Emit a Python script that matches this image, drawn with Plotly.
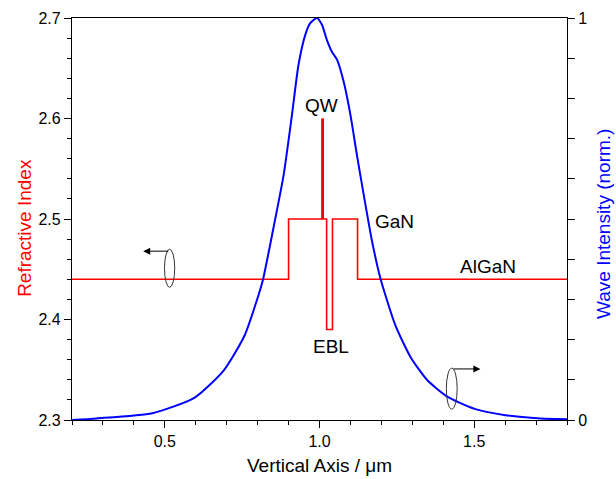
import plotly.graph_objects as go

# Refractive index profile (step profile)
ri_x = [0.2, 0.9, 0.9, 1.01, 1.01, 1.01, 1.023, 1.023, 1.042, 1.042, 1.123, 1.123, 1.8]
ri_y = [2.44, 2.44, 2.5, 2.5, 2.6, 2.5, 2.5, 2.39, 2.39, 2.5, 2.5, 2.44, 2.44]

# Quantum well spike (drawn thicker)
qw_x = [1.01, 1.01]
qw_y = [2.5, 2.6]

# Wave intensity (normalised)
wi_x = [0.2, 0.28, 0.46, 0.595, 0.69, 0.757, 0.803, 0.817, 0.851, 0.884, 0.911, 0.932,
        0.954, 0.97, 0.992, 1.008, 1.024, 1.040, 1.057, 1.078, 1.10, 1.121, 1.143, 1.17,
        1.197, 1.245, 1.294, 1.348, 1.413, 1.504, 1.601, 1.715, 1.8]
wi_y = [0.0, 0.004, 0.017, 0.055, 0.123, 0.209, 0.311, 0.348, 0.477, 0.609, 0.759, 0.883,
        0.958, 0.987, 1.0, 0.983, 0.945, 0.916, 0.896, 0.842, 0.759, 0.659, 0.56, 0.444,
        0.352, 0.236, 0.157, 0.0995, 0.058, 0.027, 0.012, 0.004, 0.002]

x_ticks = [0.5, 1.0, 1.5]
x_ticktext = ["0.5", "1.0", "1.5"]
y_ticks = [2.3, 2.4, 2.5, 2.6, 2.7]
y2_ticks = [0, 1]

FONT = "Arial, Liberation Sans, sans-serif"

fig = go.Figure()
fig.add_trace(go.Scatter(x=wi_x, y=wi_y, yaxis="y2", mode="lines",
                         line=dict(color="#0000ff", width=2, shape="spline", smoothing=0.6),
                         showlegend=False))
fig.add_trace(go.Scatter(x=ri_x, y=ri_y, mode="lines",
                         line=dict(color="#ff0000", width=1.6),
                         showlegend=False))
fig.add_trace(go.Scatter(x=qw_x, y=qw_y, mode="lines",
                         line=dict(color="#ff0000", width=2.8),
                         showlegend=False))

axis_common = dict(showline=True, linecolor="black", linewidth=1.3, showgrid=False,
                   zeroline=False, ticks="outside", tickcolor="black", automargin=False,
                   tickfont=dict(family=FONT, size=16, color="black"))

fig.update_layout(
    width=616, height=479,
    margin=dict(l=72, r=49, t=18, b=59),
    paper_bgcolor="white", plot_bgcolor="white",
    font=dict(family=FONT),
    xaxis=dict(range=[0.2, 1.8], tickvals=x_ticks, ticktext=x_ticktext, ticklen=7,
               mirror=True,
               minor=dict(dtick=0.1, tick0=0.2, ticklen=4, ticks="outside", tickcolor="black"),
               **axis_common),
    yaxis=dict(range=[2.3, 2.7], tickvals=y_ticks, ticklen=7, tickformat=".1f",
               minor=dict(dtick=0.02, tick0=2.3, ticklen=4, ticks="outside", tickcolor="black"),
               **axis_common),
    yaxis2=dict(range=[0, 1], overlaying="y", side="right", tickvals=y2_ticks, ticklen=7,
                minor=dict(dtick=0.1, tick0=0, ticklen=7, ticks="outside", tickcolor="black"),
                **axis_common),
)

# Axis titles
title_size = 19
fig.add_annotation(xref="paper", yref="paper", x=0.499, y=-0.1144, text="Vertical Axis / μm",
                   showarrow=False, font=dict(family=FONT, size=title_size, color="black"),
                   xanchor="center", yanchor="middle")
fig.add_annotation(xref="paper", yref="paper", x=-0.0949, y=0.478, text="Refractive Index",
                   showarrow=False, textangle=-90, font=dict(family=FONT, size=title_size, color="#ff0000"),
                   xanchor="center", yanchor="middle")
fig.add_annotation(xref="paper", yref="paper", x=1.0748, y=0.4876, text="Wave Intensity (norm.)",
                   showarrow=False, textangle=-90, font=dict(family=FONT, size=title_size, color="#0000ff"),
                   xanchor="center", yanchor="middle")

ann_font = dict(family=FONT, size=19, color="black")
labels = [("QW", 1.008, 2.6134), ("EBL", 1.037, 2.373), ("GaN", 1.2437, 2.4973), ("AlGaN", 1.5447, 2.4532)]
for t, xx, yy in labels:
    fig.add_annotation(x=xx, y=yy, text=t, showarrow=False, font=ann_font,
                       xanchor="center", yanchor="middle")

# Ellipse markers with arrows pointing to the relevant axis
fig.add_shape(type="circle", xref="x", yref="y", x0=0.499, x1=0.532, y0=2.432, y1=2.470,
              line=dict(color="#333333", width=1))
fig.add_annotation(x=0.43, y=2.468, ax=0.516, ay=2.468, xref="x", yref="y", axref="x", ayref="y",
                   text="", showarrow=True, arrowhead=2, arrowsize=1.4, arrowwidth=1, arrowcolor="black")
fig.add_shape(type="circle", xref="x", yref="y2", x0=1.410, x1=1.445, y0=0.027, y1=0.129,
              line=dict(color="#333333", width=1))
fig.add_annotation(x=1.52, y=0.127, ax=1.428, ay=0.127, xref="x", yref="y2", axref="x", ayref="y2",
                   text="", showarrow=True, arrowhead=2, arrowsize=1.4, arrowwidth=1, arrowcolor="black")

fig.write_html("out.html")
